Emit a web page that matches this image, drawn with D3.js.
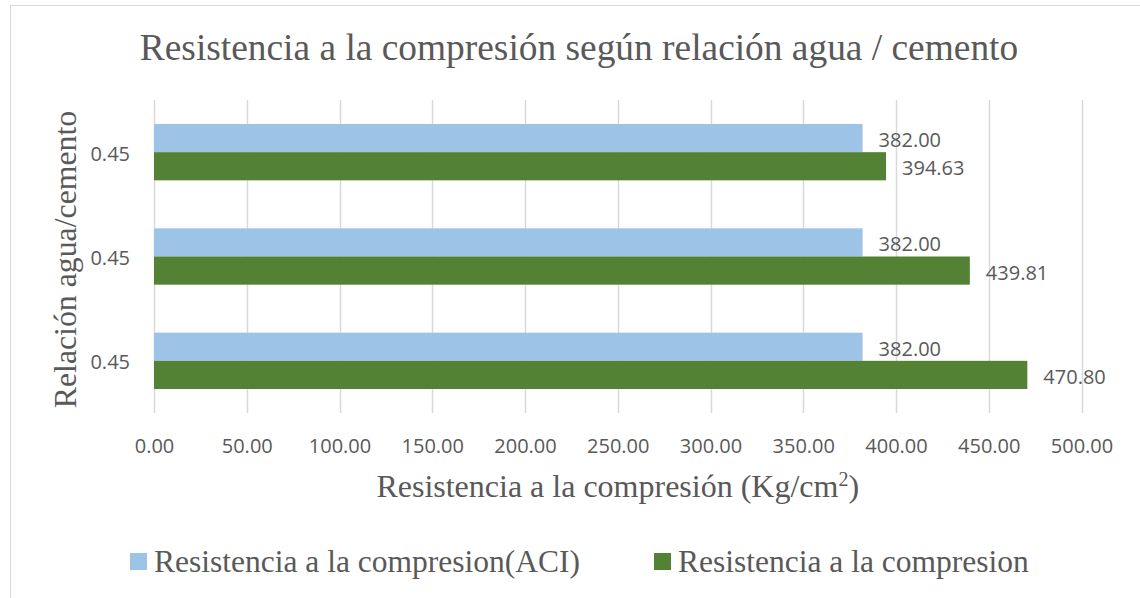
<!DOCTYPE html>
<html>
<head>
<meta charset="utf-8">
<script src="https://cdn.jsdelivr.net/npm/d3@7"></script>
<style>
  body { margin: 0; background: #fff; }
  svg text { fill: #595959; }
</style>
</head>
<body>
<div id="chart"></div>
<script>
// data, first category sits at the bottom (like Excel does)
var categories = ["0.45", "0.45", "0.45"];
var aciValues = [382.00, 382.00, 382.00];
var realValues = [470.80, 439.81, 394.63];
var xTicks = [0, 50, 100, 150, 200, 250, 300, 350, 400, 450, 500];
var seriesNames = ["Resistencia a la compresion(ACI)", "Resistencia a la compresion"];
var colors = ["#9dc3e6", "#548235"];

var W = 1140, H = 598;
var plot = {left: 154, right: 1081.5, top: 100, bottom: 413};

var svg = d3.select("#chart").append("svg")
    .attr("width", W)
    .attr("height", H);

// chart frame
svg.append("rect")
    .attr("x", 10.5).attr("y", 5.5)
    .attr("width", W).attr("height", H)
    .attr("fill", "none")
    .attr("stroke", "#d9d9d9");

var x = d3.scaleLinear().domain([0, 500]).range([plot.left, plot.right]);

var idx = d3.range(categories.length);
var y = d3.scaleBand()
    .domain(idx.slice().reverse())
    .range([plot.top, plot.bottom])
    .paddingInner(0.46)
    .paddingOuter(0.23);

var ySub = d3.scaleBand().domain([0, 1]).range([0, y.bandwidth()]);

// gridlines
svg.append("g").selectAll("line")
    .data(xTicks)
    .enter().append("line")
    .attr("x1", function(d) { return Math.round(x(d)) + 0.5; })
    .attr("x2", function(d) { return Math.round(x(d)) + 0.5; })
    .attr("y1", plot.top)
    .attr("y2", plot.bottom)
    .attr("stroke", "#d9d9d9")
    .attr("stroke-width", 1.5);

// x tick labels
var xAxis = d3.axisBottom(x).tickValues(xTicks).tickFormat(d3.format(".2f")).tickSize(0).tickPadding(0);
var gx = svg.append("g")
    .attr("transform", "translate(0," + 453 + ")")
    .call(xAxis);
gx.select(".domain").remove();
gx.selectAll("text")
    .attr("dy", 0)
    .attr("y", 0)
    .style("font-family", "'Open Sans', sans-serif")
    .style("font-size", "20px")
    .style("fill", "#595959");

// y tick labels
var yAxis = d3.axisLeft(y).tickFormat(function(i) { return categories[i]; }).tickSize(0).tickPadding(24);
var gy = svg.append("g")
    .attr("transform", "translate(" + plot.left + "," + 2 + ")")
    .call(yAxis);
gy.select(".domain").remove();
gy.selectAll("text")
    .style("font-family", "'Open Sans', sans-serif")
    .style("font-size", "20px")
    .style("fill", "#595959");

// bars
var series = [aciValues, realValues];
var fmt = d3.format(".2f");
series.forEach(function(vals, s) {
  var g = svg.append("g");
  g.selectAll("rect")
    .data(idx)
    .enter().append("rect")
    .attr("x", x(0))
    .attr("y", function(i) { return y(i) + ySub(s); })
    .attr("width", function(i) { return x(vals[i]) - x(0); })
    .attr("height", ySub.bandwidth())
    .attr("fill", colors[s]);
  g.selectAll("text")
    .data(idx)
    .enter().append("text")
    .attr("x", function(i) { return x(vals[i]) + 16; })
    .attr("y", function(i) { return y(i) + ySub(s) + ySub.bandwidth() / 2 + 2; })
    .attr("dy", "0.35em")
    .style("font-family", "'Open Sans', sans-serif")
    .style("font-size", "20px")
    .text(function(i) { return fmt(vals[i]); });
});

// title
svg.append("text")
    .attr("x", 579)
    .attr("y", 60)
    .attr("text-anchor", "middle")
    .style("font-family", "'Liberation Serif', 'Times New Roman', serif")
    .style("font-size", "37.4px")
    .text("Resistencia a la compresión según relación agua / cemento");

// x axis title
var xt = svg.append("text")
    .attr("x", (plot.left + plot.right) / 2)
    .attr("y", 497)
    .attr("text-anchor", "middle")
    .style("font-family", "'Liberation Serif', 'Times New Roman', serif")
    .style("font-size", "32px");
xt.append("tspan").text("Resistencia a la compresión (Kg/cm");
xt.append("tspan").attr("dy", -11).style("font-size", "20px").text("2");
xt.append("tspan").attr("dy", 11).text(")");

// y axis title
svg.append("text")
    .attr("transform", "translate(76," + ((plot.top + plot.bottom) / 2 + 3) + ") rotate(-90)")
    .attr("text-anchor", "middle")
    .style("font-family", "'Liberation Serif', 'Times New Roman', serif")
    .style("font-size", "31.8px")
    .text("Relación agua/cemento");

// legend
var legendX = [130, 654];
var legend = svg.append("g").selectAll("g")
    .data(seriesNames)
    .enter().append("g")
    .attr("transform", function(d, i) { return "translate(" + legendX[i] + ",553)"; });
legend.append("rect")
    .attr("width", 17).attr("height", 17)
    .attr("fill", function(d, i) { return colors[i]; });
legend.append("text")
    .attr("x", 24)
    .attr("y", 19)
    .style("font-family", "'Liberation Serif', 'Times New Roman', serif")
    .style("font-size", "31.5px")
    .text(function(d) { return d; });
</script>
</body>
</html>
